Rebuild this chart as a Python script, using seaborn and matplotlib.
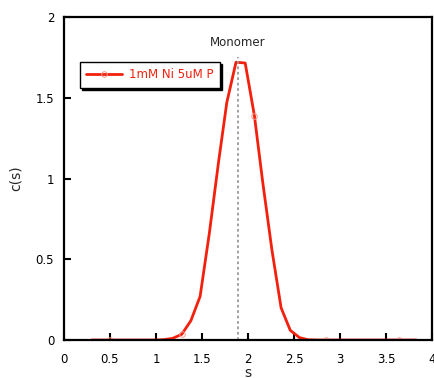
import numpy as np
import pandas as pd
import matplotlib
matplotlib.use("Agg")
import matplotlib.pyplot as plt
import seaborn as sns

# sedimentation coefficient (S) and c(s) distribution
s_vals = [0.30, 0.40, 0.50, 0.59, 0.69, 0.79, 0.89, 0.99, 1.08, 1.18,
          1.28, 1.38, 1.48, 1.58, 1.68, 1.77, 1.87, 1.97, 2.07, 2.16,
          2.26, 2.36, 2.46, 2.56, 2.65, 2.75, 2.85, 2.95, 3.05, 3.14,
          3.24, 3.34, 3.44, 3.54, 3.64, 3.73, 3.83]
cs_vals = [0, 0, 0, 0, 0, 0, 0, 0, 0.002, 0.01,
           0.035, 0.12, 0.27, 0.66, 1.10, 1.47, 1.72, 1.715, 1.39, 0.98,
           0.56, 0.20, 0.06, 0.015, 0.002, 0, 0, 0, 0, 0,
           0, 0, 0, 0, 0, 0, 0]
series_label = "1mM Ni 5uM P"
monomer_s = 1.89
monomer_top = 1.75

sns.set_style("ticks")
plt.rcParams['font.family'] = ['DejaVu Sans']

red = "#f2200c"
df = pd.DataFrame({"s": s_vals, "c": cs_vals})

fig = plt.figure(figsize=(4.35, 3.78), dpi=100)
ax = fig.add_axes([0.147, 0.1005, 0.846, 0.8545])

sns.lineplot(data=df, x="s", y="c", ax=ax, color=red, linewidth=2.0,
             marker="o", markersize=4, markerfacecolor="none",
             markeredgecolor="#f59a90", markeredgewidth=0.7,
             markevery=(2, 8), label=series_label)

ax.vlines(monomer_s, 0, monomer_top, colors="#9a9a9a", linestyles=(0, (1.5, 1.5)),
          linewidth=1.3, zorder=3)
ax.text(monomer_s, 1.8, "Monomer", ha="center", va="bottom", fontsize=8.5)

ax.set_xlim(0, 4)
ax.set_ylim(0, 2)
ax.set_xticks([0, 0.5, 1, 1.5, 2, 2.5, 3, 3.5, 4])
ax.set_xticklabels(["0", "0.5", "1", "1.5", "2", "2.5", "3", "3.5", "4"])
ax.set_yticks([0, 0.5, 1, 1.5, 2])
ax.set_yticklabels(["0", "0.5", "1", "1.5", "2"])
ax.set_xlabel("s", fontsize=10, labelpad=0)
ax.set_ylabel("c(s)", fontsize=10, labelpad=9)

for sp in ax.spines.values():
    sp.set_visible(True)
    sp.set_linewidth(1.6)
    sp.set_color("black")
    sp.set_zorder(4)
ax.tick_params(direction="in", length=5, width=1.5, labelsize=8.5,
               colors="black")
ax.tick_params(axis="x", pad=9)
ax.tick_params(axis="y", pad=7)

leg = ax.legend(loc="upper left", bbox_to_anchor=(0.043, 0.862), frameon=True,
                fancybox=False, shadow={"color": "black", "alpha": 1, "ox": 1.5, "oy": -1.5},
                edgecolor="black", fontsize=8.5, labelcolor=red, handlelength=3,
                handletextpad=0.6, borderpad=0.55, borderaxespad=0)
leg.get_frame().set_linewidth(1.0)

fig.savefig("out.png", dpi=100)
